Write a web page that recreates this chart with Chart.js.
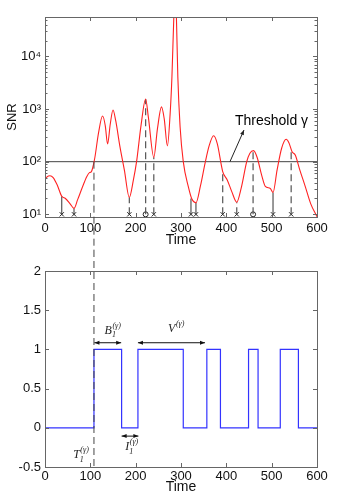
<!DOCTYPE html>
<html><head><meta charset="utf-8">
<script src="https://cdn.jsdelivr.net/npm/chart.js@4.4.1/dist/chart.umd.min.js"></script>
<style>
body{margin:0;background:#fff}
canvas{position:absolute;left:0}
#top{top:0}
#bot{top:250px}
</style></head><body>
<canvas id="top" width="350" height="250"></canvas>
<canvas id="bot" width="350" height="244"></canvas>
<script>
// SNR trace
const snrT=[0,5,11,18,27,37,45,55,64,72,82,92,98,102,105,110,118,127,133,138,144,150,156,165,175,186,195,202,212,222,228,240,248,257,263,270,276,280,284,287,290,293,298,305,316,324,333,343,353,362,372,380,392,402,412,423,433,445,452,460,468,478,486,497,503,512,522,532,538,545,552,562,574,586,600]
const snrV=[45,52,54,50,36,22,20,16,13,19,32,52,62,64,75,120,350,736,480,217,520,960,600,200,70,21,45,100,500,1550,700,121,420,1100,650,200,800,4100,50000,200000,50000,4100,460,100,34,19.5,16.6,35,93,200,310,220,65,45,27,17,32,100,145,162,120,55,34,31,26,70,180,266,230,155,134,70,34,16,9]
const threshold=100

const crossT=[37,64,186,240,322,333,392,423,503,543]
const circT=[222,459]
const solidT=[37,64,322,333,503]
const solidTop=[22,13,20,16.6,26]
const dashT=[186,222,240,392,423,459,543]
const dashTop=[21,1550,121,65,17,162,155]
const firstT=108

const snrTicks=[10,100,1000,10000]
const snrTickLabels=["10¹","10²","10³","10⁴"]

// binary indicator (value after each switch)
const stepT=[0,108,169,205,305,357,387,449,470,519,559,600]
const stepV=[0,1,0,1,0,1,0,1,0,1,0,0]

Chart.defaults.font.family="'Liberation Sans', Arial, sans-serif"
Chart.defaults.font.size=13
Chart.defaults.color="#111"

function segs(ts,tops){
const out=[]
ts.forEach((t,i)=>{out.push({x:t,y:10},{x:t,y:tops[i]},{x:t,y:null})})
return out
}

const frame={id:"frame",afterDatasetsDraw(c){
const {ctx,chartArea:a,scales:{x,y}}=c
ctx.save()
ctx.strokeStyle="#666"
ctx.lineWidth=1
ctx.strokeRect(Math.round(a.left)+.5,Math.round(a.top)+.5,Math.round(a.right-a.left),Math.round(a.bottom-a.top))
ctx.beginPath()
x.ticks.forEach(t=>{
const p=Math.round(x.getPixelForValue(t.value))+.5
ctx.moveTo(p,a.bottom);ctx.lineTo(p,a.bottom-4)
ctx.moveTo(p,a.top);ctx.lineTo(p,a.top+4)
})
const ys=y.ticks.map(t=>[t.value,4])
if(y.type==="logarithmic"){
for(let d=0;d<5;d++)for(let k=2;k<10;k++){const v=k*Math.pow(10,d);if(v>=y.min&&v<=y.max)ys.push([v,2.5])}
}
ys.forEach(([v,l])=>{
const p=Math.round(y.getPixelForValue(v))+.5
ctx.moveTo(a.left,p);ctx.lineTo(a.left+l,p)
ctx.moveTo(a.right,p);ctx.lineTo(a.right-l,p)
})
ctx.stroke()
ctx.restore()
}}

function head(ctx,x,y,ang){
ctx.beginPath()
ctx.moveTo(x,y)
ctx.lineTo(x-5*Math.cos(ang)+2*Math.sin(ang),y-5*Math.sin(ang)-2*Math.cos(ang))
ctx.lineTo(x-5*Math.cos(ang)-2*Math.sin(ang),y-5*Math.sin(ang)+2*Math.cos(ang))
ctx.closePath()
ctx.fill()
}

function dblArrow(ctx,x1,x2,y){
ctx.beginPath();ctx.moveTo(x1,y);ctx.lineTo(x2,y);ctx.stroke()
head(ctx,x1,y,Math.PI);head(ctx,x2,y,0)
}

function sym(ctx,cx,by,main,sub,sup){
const f1="italic 12px 'Liberation Serif', serif",f2="italic 8px 'Liberation Serif', serif"
ctx.font=f1;const w1=ctx.measureText(main).width
ctx.font=f2;const w2=Math.max(sub?ctx.measureText(sub).width:0,ctx.measureText(sup).width)
const x=cx-(w1+w2+1)/2
ctx.textAlign="left";ctx.textBaseline="alphabetic"
ctx.font=f1;ctx.fillText(main,x,by)
ctx.font=f2;ctx.fillText(sup,x+w1+0.5,by-6)
if(sub)ctx.fillText(sub,x+w1,by+3.5)
}

const topNotes={id:"topNotes",afterDatasetsDraw(c){
const {ctx,scales:{x,y}}=c
ctx.save()
// long dashed line into the lower plot
ctx.strokeStyle="#444";ctx.lineWidth=1;ctx.setLineDash([7,4])
ctx.beginPath()
ctx.moveTo(x.getPixelForValue(firstT),y.getPixelForValue(threshold))
ctx.lineTo(x.getPixelForValue(firstT),c.height)
ctx.stroke()
ctx.setLineDash([])
// threshold label with arrow
const x1=x.getPixelForValue(408),y1=y.getPixelForValue(threshold)
const x2=x.getPixelForValue(439),y2=y.getPixelForValue(400)
ctx.strokeStyle="#222";ctx.fillStyle="#222"
ctx.beginPath();ctx.moveTo(x1,y1);ctx.lineTo(x2,y2);ctx.stroke()
head(ctx,x2,y2,Math.atan2(y2-y1,x2-x1))
ctx.fillStyle="#000"
ctx.font="14px 'Liberation Sans', Arial, sans-serif"
ctx.textAlign="left";ctx.textBaseline="alphabetic"
ctx.fillText("Threshold γ",x.getPixelForValue(419),y.getPixelForValue(500))
ctx.restore()
}}

const botNotes={id:"botNotes",afterDatasetsDraw(c){
const {ctx,chartArea:a,scales:{x,y}}=c
const px=v=>x.getPixelForValue(v),py=v=>y.getPixelForValue(v)
ctx.save()
ctx.strokeStyle="#444";ctx.lineWidth=1;ctx.setLineDash([7,4])
ctx.beginPath();ctx.moveTo(px(firstT),0);ctx.lineTo(px(firstT),a.bottom);ctx.stroke()
ctx.setLineDash([])
ctx.strokeStyle="#111";ctx.fillStyle="#111";ctx.lineWidth=1
dblArrow(ctx,px(109),px(168),py(1.085))
dblArrow(ctx,px(205),px(353),py(1.085))
dblArrow(ctx,px(169),px(206),py(-0.106))
ctx.fillStyle="#222"
sym(ctx,px(150),py(1.2),"B","1","(γ)")
sym(ctx,px(290),py(1.225),"V","","(γ)")
sym(ctx,px(192),py(-0.284),"I","1","(γ)")
sym(ctx,px(80),py(-0.39),"T","1","(γ)")
ctx.restore()
}}

const xAxis=(h,pad,titlePad)=>({type:"linear",min:0,max:600,
ticks:{stepSize:100,autoSkip:false,maxRotation:0,padding:pad},
grid:{display:false,drawTicks:false},border:{display:false},
title:{display:true,text:"Time",font:{size:14},padding:{top:0,bottom:titlePad}},
afterFit:s=>{s.height=h}})

new Chart(document.getElementById("top"),{
type:"line",
data:{datasets:[
{data:snrT.map((t,i)=>({x:t,y:snrV[i]})),borderColor:"#f22",borderWidth:1.1,pointRadius:0,cubicInterpolationMode:"monotone"},
{data:[{x:0,y:threshold},{x:600,y:threshold}],borderColor:"#444",borderWidth:1,pointRadius:0},
{data:segs(solidT,solidTop),borderColor:"#333",borderWidth:1,pointRadius:0,spanGaps:false},
{data:segs(dashT,dashTop),borderColor:"#555",borderWidth:1.2,borderDash:[7,4],pointRadius:0,spanGaps:false},
{data:crossT.map(t=>({x:t,y:10})),showLine:false,pointStyle:"crossRot",pointRadius:3,borderColor:"#222",borderWidth:1},
{data:circT.map(t=>({x:t,y:10})),showLine:false,pointStyle:"circle",pointRadius:2.5,borderColor:"#222",backgroundColor:"rgba(0,0,0,0)",borderWidth:1}
]},
options:{responsive:false,animation:false,
layout:{padding:{top:17,right:33,left:0,bottom:0}},
plugins:{legend:{display:false},tooltip:{enabled:false}},
scales:{
x:xAxis(33,4,1),
y:{type:"logarithmic",min:8.9,max:56000,
afterBuildTicks:s=>{s.ticks=snrTicks.map(v=>({value:v}))},
ticks:{autoSkip:false,padding:4,callback:v=>{const i=snrTicks.indexOf(v);return i<0?"":snrTickLabels[i]}},
grid:{display:false,drawTicks:false},border:{display:false},
title:{display:true,text:"SNR",font:{size:13},padding:{top:5,bottom:0}},
afterFit:s=>{s.width=45}}
}},
plugins:[frame,topNotes]
})

new Chart(document.getElementById("bot"),{
type:"line",
data:{datasets:[
{data:stepT.map((t,i)=>({x:t,y:stepV[i]})),borderColor:"#33f",borderWidth:1.2,pointRadius:0,stepped:"before"}
]},
options:{responsive:false,animation:false,
layout:{padding:{top:21,right:33,left:0,bottom:0}},
plugins:{legend:{display:false},tooltip:{enabled:false}},
scales:{
x:xAxis(27,2,-2),
y:{type:"linear",min:-0.5,max:2,
ticks:{stepSize:0.5,autoSkip:false,padding:4,callback:v=>String(v)},
grid:{display:false,drawTicks:false},border:{display:false},
afterFit:s=>{s.width=45}}
}},
plugins:[frame,botNotes]
})
</script>
</body></html>
